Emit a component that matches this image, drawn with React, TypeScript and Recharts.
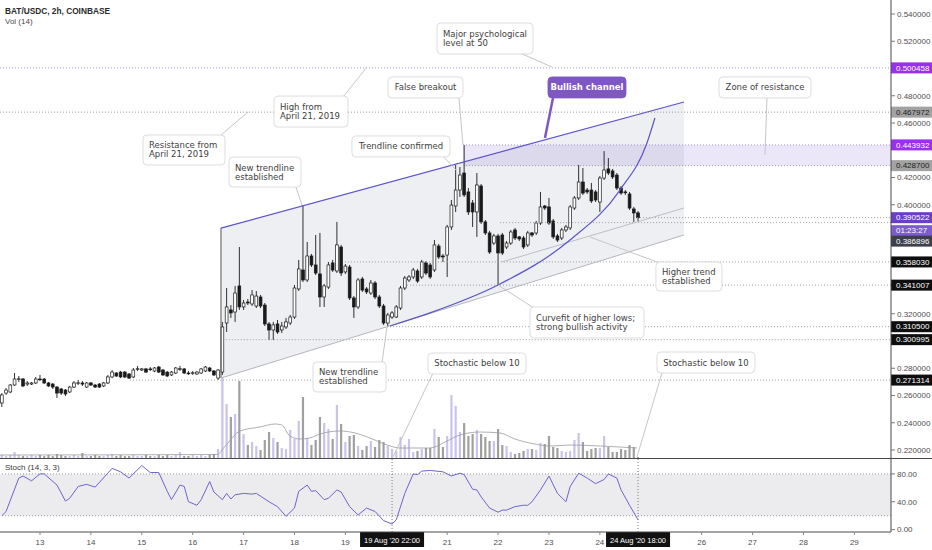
import React from 'react';
import {
  ComposedChart, Bar, Line, Area, XAxis, YAxis,
  ReferenceLine, ReferenceArea, ReferenceDot,
} from 'recharts';

// ---------- time axis ----------
const START_DAY = 12.25; // 12 Aug 2020 06:00, first 2h candle
const STEP_DAY = 1 / 12; // 2 hours
const X_DOMAIN: [number, number] = [12.214, 29.72];
const PRICE_DOMAIN: [number, number] = [0.21413, 0.55028];
const dayTicks = [13, 14, 15, 16, 17, 18, 19, 21, 22, 23, 24, 26, 27, 28, 29];
const priceTicks = [0.22, 0.24, 0.26, 0.28, 0.32, 0.4, 0.42, 0.46, 0.48, 0.52, 0.54];
const stochTicks = [0, 40, 80];

// ---------- OHLC (BAT/USDC 2h) ----------
const opens = [
  .2545, .2618, .2626, .2677, .2721, .2721, .2684, .2684, .2692, .2721,
  .2721, .2692, .2684, .2662, .2648, .2640, .2626, .2662, .2692, .2692,
  .2662, .2692, .2677, .2684, .2670, .2692, .2736, .2765, .2772, .2772,
  .2758, .2736, .2795, .2787, .2795, .2795, .2780, .2809, .2787, .2772,
  .2751, .2765, .2795, .2795, .2765, .2765, .2758, .2765, .2780, .2802,
  .2780, .2728, .2772, .3132, .3228, .3213, .3404, .3250, .3286, .3272,
  .3257, .3323, .3264, .3125, .3081, .3125, .3081, .3103, .3132, .3176,
  .3382, .3521, .3448, .3624, .3558, .3492, .3323, .3396, .3573, .3514,
  .3690, .3507, .3543, .3316, .3250, .3455, .3382, .3352, .3426, .3323,
  .3257, .3132, .3176, .3176, .3242, .3389, .3448, .3470, .3514, .3470,
  .3573, .3558, .3521, .3697, .3624, .3631, .3837, .3991, .4108, .4233,
  .4094, .4013, .3947, .4138, .3874, .3793, .3719, .3771, .3778, .3690,
  .3719, .3815, .3764, .3756, .3705, .3793, .3793, .3866, .3991, .3984,
  .3881, .3771, .3756, .3815, .3830, .3976, .4050, .4167, .4108, .4108,
  .4094, .4020, .4196, .4263, .4248, .4218, .4123, .4094, .4079, .3969, .3940,
];
const highs = [
  .2618, .2655, .2684, .2765, .2743, .2728, .2706, .2699, .2736, .2751,
  .2728, .2699, .2692, .2670, .2655, .2648, .2670, .2706, .2714, .2706,
  .2699, .2699, .2684, .2692, .2699, .2751, .2787, .2772, .2780, .2780,
  .2765, .2802, .2817, .2802, .2802, .2809, .2809, .2817, .2795, .2780,
  .2780, .2809, .2817, .2802, .2780, .2780, .2780, .2802, .2817, .2809,
  .2787, .2795, .3140, .3389, .3264, .3404, .3690, .3301, .3308, .3374,
  .3367, .3338, .3279, .3140, .3140, .3154, .3140, .3169, .3191, .3411,
  .3595, .3998, .3727, .3639, .3778, .3793, .3418, .3580, .3595, .3874,
  .3705, .3565, .3558, .3330, .3462, .3470, .3396, .3448, .3440, .3338,
  .3272, .3206, .3220, .3264, .3404, .3477, .3484, .3536, .3529, .3595,
  .3587, .3573, .3741, .3712, .3639, .3852, .4035, .4292, .4277, .4439,
  .4123, .4035, .4233, .4152, .3888, .3808, .3786, .3786, .3793, .3734,
  .3815, .3830, .3771, .3771, .3808, .3800, .3881, .4094, .3998, .4050,
  .3896, .3786, .3830, .3852, .3998, .4064, .4292, .4270, .4123, .4160,
  .4108, .4211, .4394, .4343, .4263, .4233, .4138, .4108, .4094, .3984, .3954,
];
const lows = [
  .2516, .2604, .2618, .2670, .2699, .2662, .2670, .2677, .2684, .2706,
  .2684, .2662, .2648, .2582, .2604, .2596, .2618, .2655, .2677, .2670,
  .2655, .2670, .2655, .2655, .2662, .2684, .2728, .2736, .2728, .2728,
  .2721, .2728, .2780, .2780, .2765, .2780, .2772, .2765, .2743, .2736,
  .2743, .2758, .2780, .2758, .2751, .2751, .2751, .2758, .2772, .2772,
  .2743, .2714, .2751, .3066, .3169, .3140, .3228, .3228, .3264, .3257,
  .3242, .3242, .3110, .3007, .3007, .3052, .3059, .3088, .3118, .3162,
  .3367, .3433, .3433, .3543, .3484, .3250, .3250, .3382, .3507, .3499,
  .3477, .3492, .3301, .3169, .3235, .3360, .3345, .3338, .3308, .3242,
  .3118, .3110, .3162, .3169, .3228, .3374, .3433, .3455, .3426, .3455,
  .3484, .3455, .3507, .3602, .3580, .3470, .3815, .3947, .4057, .4057,
  .3925, .3837, .3764, .3859, .3778, .3639, .3705, .3411, .3631, .3675,
  .3705, .3741, .3734, .3675, .3690, .3764, .3778, .3852, .3962, .3852,
  .3749, .3727, .3741, .3800, .3815, .3962, .4035, .4072, .4079, .4013,
  .4020, .3947, .4182, .4218, .4189, .4108, .4072, .4072, .3962, .3874, .3881,
];
const closes = [
  .2604, .2640, .2677, .2721, .2723, .2670, .2692, .2692, .2721, .2719,
  .2692, .2670, .2662, .2618, .2618, .2611, .2662, .2692, .2694, .2684,
  .2692, .2677, .2662, .2662, .2692, .2736, .2772, .2743, .2736, .2736,
  .2728, .2787, .2797, .2795, .2772, .2793, .2802, .2772, .2751, .2743,
  .2772, .2802, .2797, .2765, .2763, .2767, .2772, .2795, .2809, .2780,
  .2751, .2787, .3103, .3250, .3206, .3352, .3250, .3279, .3279, .3338,
  .3330, .3257, .3125, .3081, .3118, .3066, .3110, .3140, .3176, .3389,
  .3529, .3448, .3624, .3558, .3499, .3323, .3404, .3558, .3521, .3705,
  .3499, .3550, .3316, .3250, .3448, .3374, .3360, .3426, .3323, .3257,
  .3132, .3191, .3206, .3250, .3389, .3462, .3470, .3521, .3440, .3580,
  .3499, .3470, .3705, .3617, .3617, .3837, .3998, .4108, .4218, .4072,
  .3947, .3947, .4145, .3874, .3793, .3653, .3771, .3646, .3646, .3719,
  .3800, .3756, .3749, .3690, .3793, .3778, .3866, .3984, .3976, .3866,
  .3764, .3741, .3815, .3837, .3984, .4050, .4167, .4086, .4094, .4028,
  .4035, .4196, .4255, .4233, .4204, .4123, .4086, .4088, .3976, .3940, .3905,
];
// volume (thousand BAT)
const volumes = [
  30, 20, 30, 60, 30, 20, 20, 30, 20, 30,
  20, 30, 20, 40, 30, 20, 20, 30, 20, 50,
  20, 20, 30, 20, 20, 30, 40, 20, 30, 20,
  20, 30, 20, 20, 30, 20, 20, 30, 20, 30,
  20, 30, 60, 20, 20, 30, 20, 30, 20, 30,
  40, 90,
  810, 540, 410, 440, 770, 240, 130, 160, 120, 80,
  180, 260, 200, 160, 100, 90, 280, 190, 370, 610,
  200, 130, 180, 410, 350, 290, 190, 530, 340, 160,
  220, 230, 120, 80, 120, 170, 110, 180, 160, 120,
  90, 70, 210, 130, 190, 60, 70, 90, 100, 100,
  290, 210, 110, 220, 630, 520, 260, 350, 220, 240,
  280, 240, 210, 170, 170, 290, 130, 120, 60, 40,
  50, 70, 90, 90, 80, 150, 140, 220, 110, 100,
  70, 60, 70, 180, 250, 160, 70, 90, 100, 100,
  220, 110, 60, 60, 90, 80, 130, 110, 10,
];
// Vol MA(14): [day, value]
const volMA = [
  [12.214, 30], [16.48, 35], [16.64, 120], [16.93, 270], [17.32, 310], [17.62, 340],
  [17.75, 330], [17.91, 220], [18.11, 190], [18.3, 200], [18.5, 240], [18.89, 270],
  [19.19, 250], [19.48, 200], [19.88, 120], [20.07, 100], [20.66, 100], [20.96, 160],
  [21.25, 230], [21.64, 260], [22.04, 250], [22.33, 190], [22.72, 140], [23.02, 120],
  [23.41, 130], [24.0, 120], [24.73, 100],
];
// Stoch %K (14,3,3): [candle index, value]
const stochK = [
  [0, 20], [1, 26], [4, 74], [5, 77], [7, 70], [9, 80], [10, 80], [13, 64], [15, 41], [16, 45],
  [18, 62], [20, 65], [22, 61], [26, 88], [28, 83], [30, 74], [33, 92], [35, 82], [37, 82], [39, 55],
  [40, 43], [42, 64], [43, 62], [44, 40], [46, 35], [47, 43], [49, 69], [50, 54], [52, 43], [53, 52],
  [54, 44], [55, 50], [57, 52], [59, 51], [60, 52], [63, 40], [65, 33], [67, 19], [69, 31], [70, 55],
  [72, 64], [73, 55], [74, 56], [76, 43], [77, 45], [79, 57], [80, 54], [82, 33], [84, 21], [86, 31],
  [88, 26], [90, 13], [92, 8], [93, 14], [95, 52], [97, 80], [98, 79], [99, 84], [101, 85], [104, 83],
  [106, 77], [108, 81], [109, 79], [111, 58], [112, 57], [113, 47], [115, 31], [117, 25], [118, 28], [119, 28],
  [121, 33], [123, 35], [124, 35], [125, 40], [127, 57], [129, 77], [131, 52], [133, 40], [134, 62], [136, 81],
  [138, 74], [140, 66], [142, 72], [143, 80], [145, 74], [146, 57], [148, 35], [150, 14],
];

// ---------- drawings (data space) ----------
const channelUpper = [[16.556, 0.3829], [25.652, 0.4754]];
const channelLower = [[16.556, 0.2728], [25.652, 0.3778]];
const higherTrend = [[22.077, 0.358], [25.652, 0.3976]];
const curveFit = [
  [19.876, 0.311], [20.662, 0.3206], [21.998, 0.3411], [23.413, 0.3741],
  [24.395, 0.4108], [24.925, 0.4453], [25.082, 0.4637],
];
const zone = { x1: 21.31, y1: 0.4287, y2: 0.443932 };
const levels = [
  { p: 0.500458, from: 12.214, kind: 'purple' },
  { p: 0.467972, from: 12.214, kind: 'grey' },
  { p: 0.443932, from: 21.31, kind: 'purple' },
  { p: 0.4287, from: 21.31, kind: 'grey' },
  { p: 0.390522, from: 24.73, kind: 'grey' },
  { p: 0.386896, from: 22.04, kind: 'grey' },
  { p: 0.35803, from: 18.99, kind: 'grey' },
  { p: 0.341007, from: 20.21, kind: 'grey' },
  { p: 0.3105, from: 19.82, kind: 'grey' },
  { p: 0.300995, from: 16.65, kind: 'grey' },
  { p: 0.271314, from: 14.77, kind: 'grey' },
];
const badges = [
  { p: 0.500458, text: '0.500458', bg: '#9a2ff0', fg: '#ffffff', dy: 0 },
  { p: 0.467972, text: '0.467972', bg: '#a2a2a2', fg: '#1c1c1c', dy: 0 },
  { p: 0.443932, text: '0.443932', bg: '#9a2ff0', fg: '#ffffff', dy: 0 },
  { p: 0.4287, text: '0.428700', bg: '#a2a2a2', fg: '#1c1c1c', dy: 0 },
  { p: 0.390522, text: '0.390522', bg: '#6a3fc6', fg: '#ffffff', dy: 0 },
  { p: 0.390522, text: '01:23:27', bg: '#7d5cd2', fg: '#ffffff', dy: 13 },
  { p: 0.386896, text: '0.386896', bg: '#3d404a', fg: '#ffffff', dy: 18.5 },
  { p: 0.35803, text: '0.358030', bg: '#0e0e0e', fg: '#ffffff', dy: 0 },
  { p: 0.341007, text: '0.341007', bg: '#0e0e0e', fg: '#ffffff', dy: 0 },
  { p: 0.3105, text: '0.310500', bg: '#0e0e0e', fg: '#ffffff', dy: 0 },
  { p: 0.300995, text: '0.300995', bg: '#0e0e0e', fg: '#ffffff', dy: 0 },
  { p: 0.271314, text: '0.271314', bg: '#0e0e0e', fg: '#ffffff', dy: 0 },
];
const callouts = [
  { text: 'Major psychological\nlevel at 50', x: 21.743, y: 0.522, w: 96, h: 31, from: [22.43, 0.5114], to: [23.059, 0.5011] },
  { text: 'High from\nApril 21, 2019', x: 18.324, y: 0.4684, w: 74, h: 31, from: [18.953, 0.4791], to: [19.424, 0.5011] },
  { text: 'Resistance from\nApril 21, 2019', x: 15.829, y: 0.4402, w: 82, h: 30, from: [16.536, 0.4505], to: [17.086, 0.4681] },
  { text: 'False breakout', x: 20.574, y: 0.4861, w: 75, h: 21, from: [21.232, 0.4783], to: [21.31, 0.4439] },
  { text: 'Trendline confirmed', x: 20.092, y: 0.4428, w: 98, h: 21, from: [20.937, 0.435], to: [21.173, 0.4255] },
  { text: 'New trendline\nestablished', x: 17.42, y: 0.424, w: 72, h: 30, from: [18.029, 0.413], to: [18.147, 0.3998] },
  { text: 'Bullish channel', x: 23.747, y: 0.4861, w: 78, h: 21, from: [23.079, 0.4783], to: [22.921, 0.449], accent: true },
  { text: 'Zone of resistance', x: 27.244, y: 0.4861, w: 92, h: 21, from: [27.283, 0.4783], to: [27.244, 0.4365] },
  { text: 'Higher trend\nestablished', x: 25.75, y: 0.3473, w: 66, h: 29, from: [25.181, 0.3572], to: [23.806, 0.3763] },
  { text: 'Curvefit of higher lows;\nstrong bullish activity', x: 23.747, y: 0.3136, w: 114, h: 31, from: [22.705, 0.3242], to: [21.998, 0.3411] },
  { text: 'New trendline\nestablished', x: 19.081, y: 0.2736, w: 73, h: 30, from: [19.719, 0.2839], to: [19.817, 0.3103] },
  { text: 'Stochastic below 10', x: 21.585, y: 0.2835, w: 98, h: 21, from: [20.721, 0.2765], to: [19.935, 0.2149] },
  { text: 'Stochastic below 10', x: 26.084, y: 0.2842, w: 98, h: 21, from: [25.22, 0.2765], to: [24.729, 0.2149] },
];
const markers = [
  { day: 19.917, date: "19 Aug '20", time: '22:00' },
  { day: 24.75, date: "24 Aug '20", time: '18:00' },
];

// ---------- derived tables ----------
const candles = opens.map((o, i) => ({
  t: START_DAY + i * STEP_DAY, o, h: highs[i], l: lows[i], c: closes[i], v: volumes[i],
}));
const stochData = stochK.map(([i, k]) => ({ t: START_DAY + i * STEP_DAY, k }));
const volMAData = volMA.map(([t, m]) => ({ t, m }));
const curveData = curveFit.map(([t, p]) => ({ t, p }));
const channelData = channelUpper.map(([t, hi], i) => ({ t, r: [channelLower[i][1], hi] }));

const W = 932;
const PRICE_H = 458;
const AXIS_W = 41;
const UI_FONT = '"Liberation Sans", Arial, sans-serif';
const NOTE_FONT = '"DejaVu Sans", Verdana, sans-serif';
const CHANNEL = '#5d54c8';

const CandleShape = (props: any) => {
  const { x, y, width, height, payload } = props;
  if (!payload || x == null || y == null) return null;
  const top = Math.min(y, y + height);
  const hh = Math.abs(height);
  const range = payload.h - payload.l || 1e-9;
  const py = (p: number) => top + ((payload.h - p) / range) * hh;
  const cx = x + width / 2;
  const up = payload.c >= payload.o;
  const bTop = py(Math.max(payload.o, payload.c));
  const bBot = py(Math.min(payload.o, payload.c));
  const bh = Math.max(0.8, bBot - bTop);
  return (
    <g>
      <line x1={cx} x2={cx} y1={top} y2={top + hh} stroke="#1a1a1a" strokeWidth={0.9} />
      <rect x={cx - 1.4} y={bTop} width={2.8} height={bh}
        fill={up ? '#ffffff' : '#1a1a1a'} stroke="#1a1a1a" strokeWidth={0.7} />
    </g>
  );
};

const VolShape = (props: any) => {
  const { x, y, width, height, payload } = props;
  if (!payload || x == null || y == null) return null;
  const up = payload.c >= payload.o;
  const top = Math.min(y, y + height);
  const cx = x + (width || 0) / 2;
  return <rect x={cx - 1.1} y={top} width={2.2} height={Math.abs(height)} fill={up ? '#c9c3ee' : '#a0a0a0'} />;
};

const badgeLabel = (b: any) => (props: any) => {
  const vb = props.viewBox || {};
  const x0 = (vb.x || 0) + (vb.width || 0);
  const cy = (vb.y || 0) + b.dy;
  return (
    <g>
      <rect x={x0} y={cy - 5.5} width={AXIS_W} height={11} fill={b.bg} />
      <text x={x0 + 5} y={cy} dy="0.35em" fontSize={8} fontFamily={UI_FONT} fill={b.fg}>{b.text}</text>
    </g>
  );
};

const calloutShape = (c: any) => (props: any) => {
  const { cx, cy } = props;
  if (cx == null || cy == null) return null;
  const lines = c.text.split('\n');
  const left = cx - c.w / 2;
  const top = cy - c.h / 2;
  const base = lines.length === 1 ? cy + 3 : cy - 1.5;
  return (
    <g>
      <rect x={left} y={top} width={c.w} height={c.h} rx={4} ry={4}
        fill={c.accent ? '#7e57c2' : '#ffffff'} stroke={c.accent ? '#7e57c2' : '#d4d4d4'} strokeWidth={0.8} />
      <text fontSize={8.5} fontFamily={NOTE_FONT} fill={c.accent ? '#ffffff' : '#3e3e3e'}
        fontWeight={c.accent ? 600 : 400}>
        {lines.map((ln: string, k: number) => (
          <tspan key={k} x={lines.length === 1 ? cx : left + 6} y={base + k * 9}
            textAnchor={lines.length === 1 ? 'middle' : 'start'}>{ln}</tspan>
        ))}
      </text>
    </g>
  );
};

const dateBox = (m: any) => (props: any) => {
  const vb = props.viewBox || {};
  const x = vb.x || 0;
  const yb = (vb.y || 0) + (vb.height || 0);
  return (
    <g>
      <rect x={x - 32} y={yb} width={64} height={15} fill="#111111" />
      <text x={x - 28} y={yb + 10.5} fontSize={7.5} fontFamily={UI_FONT} fill="#ffffff">{m.date}</text>
      <text x={x + 28} y={yb + 10.5} fontSize={7.5} fontFamily={UI_FONT} fill="#ffffff" textAnchor="end">{m.time}</text>
    </g>
  );
};

const tickStyle = { fontSize: 8, fill: '#4e4e4e', fontFamily: UI_FONT };

export default function App() {
  return (
    <div style={{ position: 'absolute', left: 0, top: 0, width: W, height: 550, background: '#ffffff', overflow: 'hidden' }}>
      {/* volume pane (under price) */}
      <div style={{ position: 'absolute', left: 0, top: 0 }}>
        <ComposedChart width={W} height={PRICE_H} data={candles} margin={{ top: 0, right: AXIS_W, bottom: 0, left: 0 }}>
          <XAxis type="number" dataKey="t" domain={X_DOMAIN} allowDataOverflow hide />
          <YAxis domain={[0, 4580]} allowDataOverflow hide />
          <Bar dataKey="v" barSize={3} shape={VolShape} isAnimationActive={false} />
          <Line data={volMAData} dataKey="m" type="monotone" stroke="#9a9a9a" strokeWidth={0.8}
            dot={false} activeDot={false} isAnimationActive={false} />
        </ComposedChart>
      </div>

      {/* price pane */}
      <div style={{ position: 'absolute', left: 0, top: 0 }}>
        <ComposedChart width={W} height={PRICE_H} data={candles} margin={{ top: 0, right: 0, bottom: 0, left: 0 }}>
          <XAxis type="number" dataKey="t" domain={X_DOMAIN} allowDataOverflow hide />
          <YAxis orientation="right" width={AXIS_W} domain={PRICE_DOMAIN} allowDataOverflow ticks={priceTicks}
            tickFormatter={(v: number) => v.toFixed(6)} tick={tickStyle} tickSize={4} tickMargin={2}
            axisLine={{ stroke: '#4a4a4a' }} tickLine={{ stroke: '#777' }} interval={0} />

          <Area data={channelData} dataKey="r" type="linear" stroke="none" fill="#d3d5dc" fillOpacity={0.38}
            dot={false} activeDot={false} isAnimationActive={false} />
          <ReferenceArea x1={zone.x1} x2={X_DOMAIN[1]} y1={zone.y1} y2={zone.y2} fill="#9a82dc" fillOpacity={0.2} stroke="none" ifOverflow="hidden" />

          {levels.map((lv, k) => (
            <ReferenceLine key={'lv' + k} segment={[{ x: lv.from, y: lv.p }, { x: X_DOMAIN[1], y: lv.p }]}
              stroke={lv.kind === 'purple' ? '#a58ee8' : '#9c9c9c'} strokeDasharray="1 2" strokeWidth={1} />
          ))}

          <ReferenceLine segment={[{ x: channelUpper[0][0], y: channelLower[0][1] }, { x: channelUpper[0][0], y: channelUpper[0][1] }]}
            stroke="#555555" strokeWidth={1} />
          <ReferenceLine segment={[{ x: channelUpper[0][0], y: channelUpper[0][1] }, { x: channelUpper[1][0], y: channelUpper[1][1] }]}
            stroke={CHANNEL} strokeWidth={1.2} />
          <ReferenceLine segment={[{ x: channelLower[0][0], y: channelLower[0][1] }, { x: channelLower[1][0], y: channelLower[1][1] }]}
            stroke="#b5b5c0" strokeWidth={1} />
          <ReferenceLine segment={[{ x: higherTrend[0][0], y: higherTrend[0][1] }, { x: higherTrend[1][0], y: higherTrend[1][1] }]}
            stroke="#bdbdc6" strokeWidth={1} />

          <Bar dataKey={(d: any) => [d.l, d.h]} barSize={3} shape={CandleShape} isAnimationActive={false} />

          <Line data={curveData} dataKey="p" type="monotone" stroke={CHANNEL} strokeWidth={1.2}
            dot={false} activeDot={false} isAnimationActive={false} />

          {callouts.map((c, k) => (
            <ReferenceLine key={'tail' + k} segment={[{ x: c.from[0], y: c.from[1] }, { x: c.to[0], y: c.to[1] }]}
              stroke={c.accent ? '#7e57c2' : '#c6c6c6'} strokeWidth={c.accent ? 2.5 : 1} />
          ))}
          {callouts.map((c, k) => (
            <ReferenceDot key={'box' + k} x={c.x} y={c.y} r={0} shape={calloutShape(c)} />
          ))}

          {badges.map((b, k) => (
            <ReferenceLine key={'bd' + k} y={b.p} stroke="none" label={badgeLabel(b)} />
          ))}
        </ComposedChart>
      </div>

      {/* stochastic pane + time axis */}
      <div style={{ position: 'absolute', left: 0, top: PRICE_H }}>
        <ComposedChart width={W} height={550 - PRICE_H} data={stochData} margin={{ top: 0, right: 0, bottom: 0, left: 0 }}>
          <XAxis type="number" dataKey="t" domain={X_DOMAIN} allowDataOverflow ticks={dayTicks} interval={0}
            height={18} tick={tickStyle} tickSize={3} tickMargin={4}
            axisLine={{ stroke: '#4a4a4a' }} tickLine={{ stroke: '#888' }} />
          <YAxis orientation="right" width={AXIS_W} domain={[-3.45, 102.86]} allowDataOverflow ticks={stochTicks}
            tickFormatter={(v: number) => v.toFixed(2)} tick={tickStyle} tickSize={4} tickMargin={2}
            axisLine={{ stroke: '#4a4a4a' }} tickLine={{ stroke: '#777' }} interval={0} />
          <ReferenceArea y1={20} y2={80} fill="#dcdde2" fillOpacity={0.55} stroke="none" />
          <ReferenceLine y={80} stroke="#9a9a9a" strokeDasharray="1 2" />
          <ReferenceLine y={20} stroke="#9a9a9a" strokeDasharray="1 2" />
          {markers.map((m, k) => (
            <ReferenceLine key={'mk' + k} x={m.day} stroke="#7a7a7a" strokeDasharray="1 2" label={dateBox(m)} />
          ))}
          <Line dataKey="k" type="linear" stroke="#6c64cf" strokeWidth={1} dot={false} activeDot={false} isAnimationActive={false} />
        </ComposedChart>
      </div>

      {/* pane separator */}
      <div style={{ position: 'absolute', left: 0, top: PRICE_H - 0.5, width: W, height: 1, background: '#4a4a4a' }} />

      {/* legends */}
      <div style={{ position: 'absolute', left: 5, top: 6, fontFamily: UI_FONT, fontSize: 8.3, fontWeight: 700, color: '#2a2a2a', lineHeight: '10px', whiteSpace: 'nowrap' }}>
        BAT/USDC, 2h, COINBASE
      </div>
      <div style={{ position: 'absolute', left: 5, top: 17, fontFamily: UI_FONT, fontSize: 8, color: '#4a4a4a', lineHeight: '10px', whiteSpace: 'nowrap' }}>
        Vol (14)
      </div>
      <div style={{ position: 'absolute', left: 5, top: 463, fontFamily: UI_FONT, fontSize: 8, color: '#3a3a3a', lineHeight: '10px', whiteSpace: 'nowrap' }}>
        Stoch (14, 3, 3)
      </div>
    </div>
  );
}
